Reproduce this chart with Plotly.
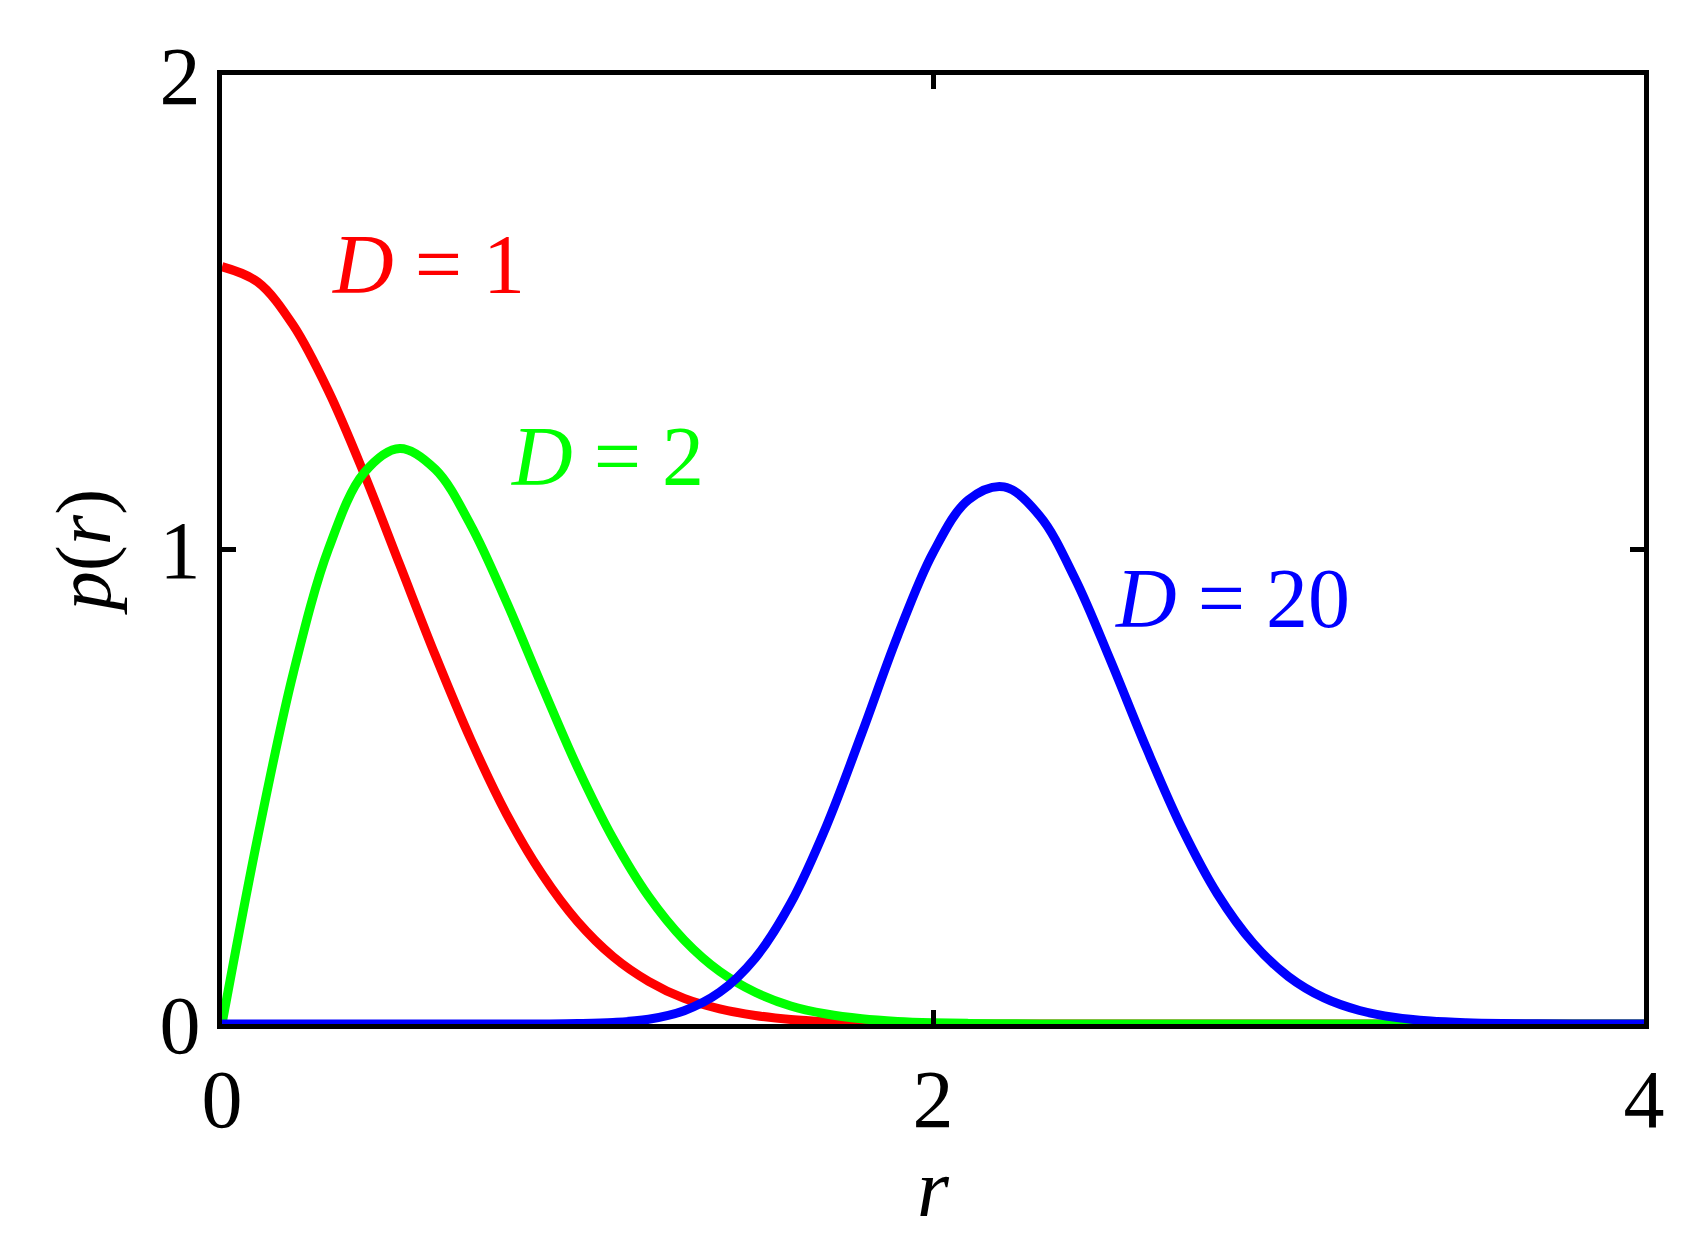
"""Radial density p(r) for D = 1, 2, 20 (MATLAB/LaTeX look)."""

import plotly.graph_objects as go

# ---------------------------------------------------------------------------
# Data
# ---------------------------------------------------------------------------

R = [0.0, 0.1, 0.2, 0.3, 0.4, 0.5, 0.6, 0.7, 0.8, 0.9,
     1.0, 1.1, 1.2, 1.3, 1.4, 1.5, 1.6, 1.7, 1.8, 1.9,
     2.0, 2.1, 2.2, 2.3, 2.4, 2.5, 2.6, 2.7, 2.8, 2.9,
     3.0, 3.1, 3.2, 3.3, 3.4, 3.5, 3.6, 3.7, 3.8, 3.9, 4.0]

P_D1 = [1.596, 1.564, 1.473, 1.333, 1.159, 0.968, 0.777, 0.599, 0.443, 0.316,
        0.216, 0.142, 0.090, 0.054, 0.032, 0.018, 0.0095, 0.0049, 0.0024, 0.0012,
        0.0005, 0, 0, 0, 0, 0, 0, 0, 0, 0,
        0, 0, 0, 0, 0, 0, 0, 0, 0, 0, 0]

P_D2 = [0.0, 0.392, 0.738, 1.002, 1.162, 1.213, 1.169, 1.051, 0.890, 0.713,
        0.541, 0.391, 0.269, 0.177, 0.111, 0.067, 0.038, 0.021, 0.011, 0.0055,
        0.0027, 0.0013, 0.0006, 0, 0, 0, 0, 0, 0, 0,
        0, 0, 0, 0, 0, 0, 0, 0, 0, 0, 0]

P_D20 = [0, 0, 0, 0, 0, 0, 0, 0, 0, 0.0002,
         0.0008, 0.0031, 0.010, 0.028, 0.067, 0.139, 0.255, 0.417, 0.613, 0.817,
         0.993, 1.105, 1.132, 1.071, 0.938, 0.765, 0.582, 0.413, 0.274, 0.171,
         0.100, 0.055, 0.0285, 0.0139, 0.0064, 0.0028, 0.0011, 0.0004, 0, 0, 0]

X_TICKS = [0, 2, 4]
Y_TICKS = [0, 1, 2]

SERIES = [
    ("D", "1", P_D1, "#FF0000", 0.305, 1.60),
    ("D", "2", P_D2, "#00FF00", 0.807, 1.197),
    ("D", "20", P_D20, "#0000FF", 2.506, 0.897),
]

# ---------------------------------------------------------------------------
# Theme
# ---------------------------------------------------------------------------

FONT = "Liberation Serif"
FONT_SIZE = 82
LINE_W = 9

fig = go.Figure()

for sym, num, vals, color, lx, ly in SERIES:
    fig.add_trace(go.Scatter(
        x=R, y=vals, name=f"{sym} = {num}", mode="lines",
        line=dict(color=color, width=LINE_W, shape="spline", smoothing=1.0),
        showlegend=False,
    ))
    fig.add_annotation(
        x=lx, y=ly, xref="x", yref="y",
        text=f"<i>{sym}</i> = {num}",
        showarrow=False, xanchor="left", yanchor="middle",
        font=dict(family=FONT, size=FONT_SIZE + 2, color=color),
    )

axis_common = dict(
    showgrid=False, zeroline=False, automargin=False,
    showline=True, linecolor="black", linewidth=5, mirror="ticks",
    ticks="inside", ticklen=14, tickwidth=5, tickcolor="black",
    tickfont=dict(family=FONT, size=FONT_SIZE, color="black"),
)

fig.update_layout(
    width=1676, height=1226,
    paper_bgcolor="white", plot_bgcolor="white",
    margin=dict(l=214, r=40, t=67, b=210),
    font=dict(family=FONT, size=FONT_SIZE, color="black"),
    xaxis=dict(
        range=[0, 4], tickvals=X_TICKS, ticktext=[str(v) for v in X_TICKS],
        ticklabelstandoff=0,
        title=dict(text="<i>r</i>", font=dict(family=FONT, size=FONT_SIZE), standoff=8),
        **axis_common,
    ),
    yaxis=dict(
        range=[0, 2], tickvals=Y_TICKS, ticktext=[str(v) for v in Y_TICKS],
        ticklabelstandoff=0,
        title=dict(text="<i>p</i>(<i>r</i>)", font=dict(family=FONT, size=FONT_SIZE - 4), standoff=25),
        **axis_common,
    ),
)

fig.write_html("out.html")
